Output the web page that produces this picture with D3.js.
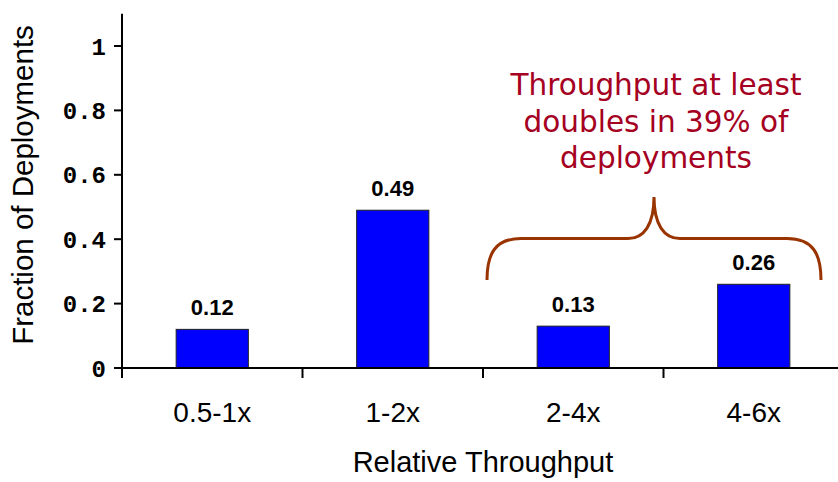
<!DOCTYPE html>
<html>
<head>
<meta charset="utf-8">
<script src="https://cdn.jsdelivr.net/npm/d3@7"></script>
<style>
  html, body { margin: 0; padding: 0; background: #fff; }
  svg { display: block; }
</style>
</head>
<body>
<svg id="chart" width="838" height="482"></svg>
<script>
const categories = ["0.5-1x", "1-2x", "2-4x", "4-6x"];
const values = [0.12, 0.49, 0.13, 0.26];
const valueLabels = ["0.12", "0.49", "0.13", "0.26"];
const yTicks = [0, 0.2, 0.4, 0.6, 0.8, 1];
const yTickLabels = ["0", "0.2", "0.4", "0.6", "0.8", "1"];
const annotationLines = ["Throughput at least", "doubles in 39% of", "deployments"];
const bracketCategories = ["2-4x", "4-6x"];

const svg = d3.select("#chart");
const W = 838, H = 482;
const x0 = 122, x1 = 844, yBase = 368;

const x = d3.scaleBand().domain(categories).range([x0, x1]).paddingInner(0).paddingOuter(0);
const y = d3.scaleLinear().domain([0, 1.1]).range([yBase, yBase - 354.2]);

const barW = x.bandwidth() * 0.4;

// bars
svg.append("g").selectAll("rect")
  .data(categories.map((c, i) => ({c, v: values[i], l: valueLabels[i]})))
  .join("rect")
  .attr("x", d => x(d.c) + x.bandwidth() / 2 - barW / 2)
  .attr("y", d => y(d.v))
  .attr("width", barW)
  .attr("height", d => y(0) - y(d.v))
  .attr("fill", "#0000FF")
  .attr("stroke", "#222")
  .attr("stroke-width", 1);

// value labels
svg.append("g").selectAll("text")
  .data(categories.map((c, i) => ({c, v: values[i], l: valueLabels[i]})))
  .join("text")
  .attr("x", d => x(d.c) + x.bandwidth() / 2)
  .attr("y", d => y(d.v) - 14.5)
  .attr("text-anchor", "middle")
  .attr("font-family", "Liberation Sans, Arial, sans-serif")
  .attr("font-weight", "bold")
  .attr("font-size", 22)
  .attr("fill", "#000")
  .text(d => d.l);

// y axis
const yAxis = svg.append("g");
yAxis.append("line")
  .attr("x1", x0).attr("x2", x0)
  .attr("y1", y(1.1)).attr("y2", yBase + 10)
  .attr("stroke", "#000").attr("stroke-width", 2);
yAxis.selectAll("line.tick").data(yTicks).join("line")
  .attr("class", "tick")
  .attr("x1", x0 - 8).attr("x2", x0)
  .attr("y1", d => y(d)).attr("y2", d => y(d))
  .attr("stroke", "#000").attr("stroke-width", 2);
yAxis.selectAll("text").data(yTicks).join("text")
  .attr("x", x0 - 16)
  .attr("y", d => y(d))
  .attr("dy", "0.36em")
  .attr("text-anchor", "end")
  .attr("font-family", "Liberation Mono, Courier New, monospace")
  .attr("font-weight", "bold")
  .attr("font-size", 24)
  .attr("fill", "#000")
  .text((d, i) => yTickLabels[i]);

// x axis
const xAxis = svg.append("g");
xAxis.append("line")
  .attr("x1", x0 - 8).attr("x2", x1)
  .attr("y1", yBase).attr("y2", yBase)
  .attr("stroke", "#000").attr("stroke-width", 2);
const boundaries = categories.map(c => x(c)).concat([x1]);
xAxis.selectAll("line.tick").data(boundaries).join("line")
  .attr("class", "tick")
  .attr("x1", d => d).attr("x2", d => d)
  .attr("y1", yBase).attr("y2", yBase + 10)
  .attr("stroke", "#000").attr("stroke-width", 2);
xAxis.selectAll("text").data(categories).join("text")
  .attr("x", d => x(d) + x.bandwidth() / 2)
  .attr("y", 421.5)
  .attr("text-anchor", "middle")
  .attr("font-family", "Liberation Sans, Arial, sans-serif")
  .attr("font-size", 28)
  .attr("fill", "#000")
  .text(d => d);

// axis titles
svg.append("text")
  .attr("x", (x0 + x1) / 2)
  .attr("y", 471.5)
  .attr("text-anchor", "middle")
  .attr("font-family", "Liberation Sans, Arial, sans-serif")
  .attr("font-size", 29)
  .attr("fill", "#000")
  .text("Relative Throughput");

svg.append("text")
  .attr("transform", "translate(33,185) rotate(-90)")
  .attr("text-anchor", "middle")
  .attr("font-family", "Liberation Sans, Arial, sans-serif")
  .attr("font-size", 29.5)
  .attr("fill", "#000")
  .text("Fraction of Deployments");

// bracket
const bl = x(bracketCategories[0]) + 4;
const br = x(bracketCategories[1]) + x.bandwidth() - 23;
const bm = (bl + br) / 2;
const bBottom = 280, bMid = 238.5, bTop = 197;
const bp = d3.path();
bp.moveTo(bl, bBottom);
bp.bezierCurveTo(bl, bBottom - 26, bl + 8, bMid, bl + 34, bMid);
bp.lineTo(bm - 26, bMid);
bp.bezierCurveTo(bm - 10, bMid, bm, bMid - 14, bm, bTop);
bp.bezierCurveTo(bm, bMid - 14, bm + 10, bMid, bm + 26, bMid);
bp.lineTo(br - 34, bMid);
bp.bezierCurveTo(br - 8, bMid, br, bBottom - 26, br, bBottom);
svg.append("path")
  .attr("d", bp.toString())
  .attr("fill", "none")
  .attr("stroke", "#993300")
  .attr("stroke-width", 3);

// annotation
svg.append("g").selectAll("text").data(annotationLines).join("text")
  .attr("x", 656)
  .attr("y", (d, i) => 95 + i * 36.6)
  .attr("text-anchor", "middle")
  .attr("font-family", "DejaVu Sans, Verdana, sans-serif")
  .attr("font-size", 29.5)
  .attr("fill", "#A50021")
  .text(d => d);
</script>
</body>
</html>
